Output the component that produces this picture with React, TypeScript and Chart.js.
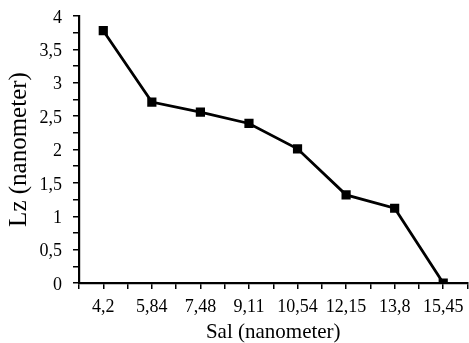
import React, { useEffect, useRef } from "react";
import { Chart, registerables } from "chart.js";

Chart.register(...registerables);

const categories = ["4,2", "5,84", "7,48", "9,11", "10,54", "12,15", "13,8", "15,45"];
const lzValues = [3.78, 2.71, 2.56, 2.39, 2.01, 1.32, 1.12, 0];
const xTitle = "Sal (nanometer)";
const yTitle = "Lz (nanometer)";

export default function App() {
  const ref = useRef<HTMLCanvasElement | null>(null);
  useEffect(() => {
    document.documentElement.style.overflow = "hidden";
    document.body.style.overflow = "hidden";
    const font = "'Liberation Serif', 'Times New Roman', serif";
    const chart = new Chart(ref.current!, {
      type: "line",
      data: {
        datasets: [
          {
            data: lzValues.map((v, i) => ({ x: i, y: v })),
            borderColor: "#000",
            backgroundColor: "#000",
            borderWidth: 2.8,
            pointStyle: "rect",
            pointRadius: 6.5,
            pointBorderWidth: 0,
            pointBackgroundColor: "#000",
            tension: 0,
          },
        ],
      },
      options: {
        animation: false,
        responsive: false,
        maintainAspectRatio: false,
        layout: { padding: { top: 16, left: 0, right: 0, bottom: 0 } },
        plugins: { legend: { display: false }, tooltip: { enabled: false } },
        scales: {
          x: {
            type: "linear",
            min: -0.5,
            max: 7.5,
            afterFit: (s: any) => { s.height = 60; s.paddingLeft = 0; s.paddingRight = 0; },
            afterBuildTicks: (s: any) => {
              const t = [];
              for (let v = -0.5; v <= 7.5001; v += 0.5) t.push({ value: v });
              s.ticks = t;
            },
            ticks: {
              autoSkip: false,
              maxRotation: 0,
              padding: 7,
              color: "#000",
              font: { family: font, size: 18 },
              callback: (v: any) => {
                const n = Number(v);
                return Number.isInteger(n) && n >= 0 && n < categories.length ? categories[n] : "";
              },
            },
            grid: { drawOnChartArea: false, drawTicks: true, tickLength: 6, color: "#000", lineWidth: 1.5 },
            border: { display: true, color: "#000", width: 2.2 },
            title: { display: true, text: xTitle, color: "#000", font: { family: font, size: 21 }, padding: { top: 0, bottom: -2 } },
          },
          y: {
            type: "linear",
            min: 0,
            max: 4,
            afterFit: (s: any) => { s.width = 79; s.paddingTop = 0; s.paddingBottom = 0; },
            afterBuildTicks: (s: any) => {
              const t = [];
              for (let v = 0; v <= 4.0001; v += 0.25) t.push({ value: v });
              s.ticks = t;
            },
            ticks: {
              autoSkip: false,
              padding: 11,
              labelOffset: 2,
              color: "#000",
              font: { family: font, size: 18 },
              callback: (v: any) => {
                const n = Number(v);
                if (Math.abs(n * 2 - Math.round(n * 2)) > 1e-6) return "";
                return String(Math.round(n * 2) / 2).replace(".", ",");
              },
            },
            grid: { drawOnChartArea: false, drawTicks: true, tickLength: 6, color: "#000", lineWidth: 1.5 },
            border: { display: true, color: "#000", width: 2.2 },
            title: { display: true, text: yTitle, color: "#000", font: { family: font, size: 25 }, padding: { top: 4, bottom: 0 } },
          },
        },
      },
    });
    return () => chart.destroy();
  }, []);
  return (
    <div style={{ position: "absolute", left: 0, top: 0, width: 474, height: 343, background: "#fff" }}>
      <canvas ref={ref} width={474} height={343} style={{ display: "block" }} />
    </div>
  );
}
